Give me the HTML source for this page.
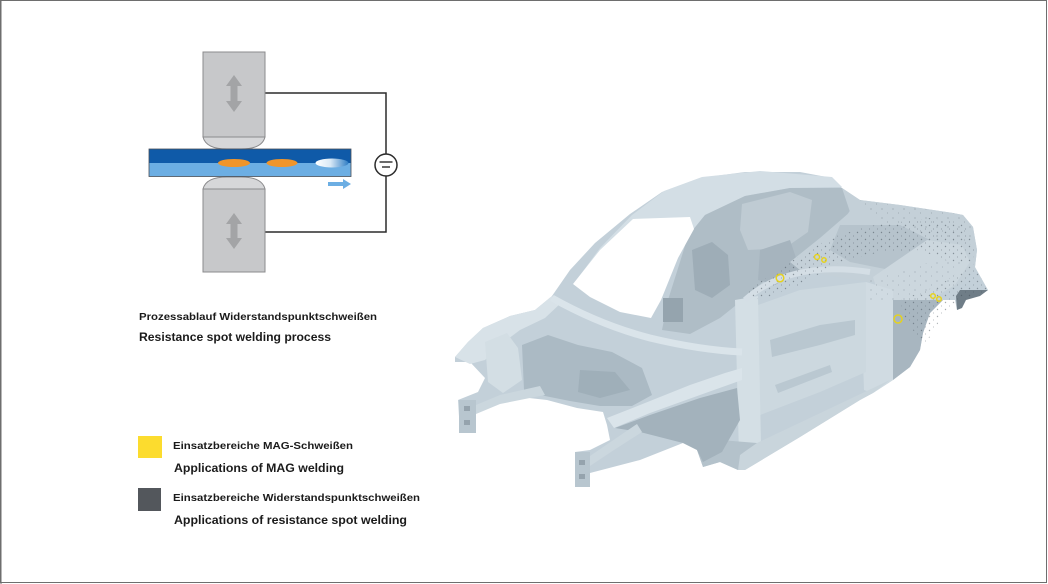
<!DOCTYPE html>
<html>
<head>
<meta charset="utf-8">
<style>
html,body{margin:0;padding:0;background:#fff;}
body{width:1048px;height:584px;overflow:hidden;position:relative;}
svg{position:absolute;left:0;top:0;}
</style>
</head>
<body>
<svg width="1048" height="584" viewBox="0 0 1048 584" xmlns="http://www.w3.org/2000/svg">
<defs>
  <linearGradient id="spot" x1="0" x2="1" y1="0" y2="0">
    <stop offset="0" stop-color="#ffffff"/>
    <stop offset="0.45" stop-color="#d9e9f6"/>
    <stop offset="1" stop-color="#2f7dc4"/>
  </linearGradient>
  <pattern id="dots" width="8" height="7" patternUnits="userSpaceOnUse">
    <circle cx="1.5" cy="1.5" r="0.7" fill="#3d4852"/>
    <circle cx="5.5" cy="5" r="0.5" fill="#3d4852"/>
  </pattern>
  <pattern id="dots2" width="11" height="9" patternUnits="userSpaceOnUse">
    <circle cx="2" cy="2" r="0.6" fill="#4a5560"/>
    <circle cx="7.5" cy="6" r="0.5" fill="#4a5560"/>
  </pattern>
</defs>

<!-- frame -->
<rect x="0.5" y="0.5" width="1046" height="582" fill="none" stroke="#6e6e6e" stroke-width="1"/>
<line x1="1" y1="0" x2="1" y2="584" stroke="#6e6e6e" stroke-width="1"/>

<!-- ============ Welding diagram ============ -->
<polyline points="265,93 386,93 386,154" fill="none" stroke="#2b2b2b" stroke-width="1.5"/>
<polyline points="386,176 386,232 265,232" fill="none" stroke="#2b2b2b" stroke-width="1.5"/>
<circle cx="386" cy="165" r="11" fill="#fff" stroke="#2b2b2b" stroke-width="1.5"/>
<line x1="379.5" y1="162" x2="392.5" y2="162" stroke="#2b2b2b" stroke-width="1.4"/>
<line x1="382" y1="167" x2="390" y2="167" stroke="#2b2b2b" stroke-width="1.4"/>

<rect x="203" y="52" width="62" height="85" fill="#c7c8ca" stroke="#8b8b8d" stroke-width="1"/>
<path d="M203,137 Q206,149 227,149 L241,149 Q262,149 265,137 Z" fill="#d6d7d9" stroke="#8b8b8d" stroke-width="1"/>
<path d="M234,75 L242,86 L237.5,86 L237.5,101 L242,101 L234,112 L226,101 L230.5,101 L230.5,86 L226,86 Z" fill="#a3a4a6"/>

<path d="M203,189 Q206,177 227,177 L241,177 Q262,177 265,189 Z" fill="#d6d7d9" stroke="#8b8b8d" stroke-width="1"/>
<rect x="203" y="189" width="62" height="83" fill="#c7c8ca" stroke="#8b8b8d" stroke-width="1"/>
<path d="M234,213 L242,224 L237.5,224 L237.5,238 L242,238 L234,249 L226,238 L230.5,238 L230.5,224 L226,224 Z" fill="#a3a4a6"/>

<rect x="149" y="149" width="202" height="14" fill="#0f5aa8"/>
<rect x="149" y="163" width="202" height="13.5" fill="#6caee3"/>
<rect x="149" y="149" width="202" height="27.5" fill="none" stroke="#4a4f57" stroke-width="0.8"/>
<ellipse cx="234" cy="163" rx="16" ry="4" fill="#f0952a"/>
<ellipse cx="282" cy="163" rx="15.5" ry="4" fill="#f0952a"/>
<ellipse cx="332" cy="163" rx="16.5" ry="4.5" fill="url(#spot)"/>
<path d="M328,182 L343,182 L343,179 L351,184 L343,189 L343,186 L328,186 Z" fill="#6caee3"/>

<!-- ============ Text ============ -->
<g font-family="'Liberation Sans', Arial, sans-serif" font-weight="bold" fill="#1b1b1b">
  <text x="139" y="320" font-size="10.5" textLength="238" lengthAdjust="spacingAndGlyphs">Prozessablauf Widerstandspunktschweißen</text>
  <text x="139" y="341" font-size="12.2" textLength="192" lengthAdjust="spacingAndGlyphs">Resistance spot welding process</text>
  <text x="173" y="449" font-size="10.5" textLength="180" lengthAdjust="spacingAndGlyphs">Einsatzbereiche MAG-Schweißen</text>
  <text x="174" y="472" font-size="12.2" textLength="170" lengthAdjust="spacingAndGlyphs">Applications of MAG welding</text>
  <text x="173" y="501" font-size="10.5" textLength="247" lengthAdjust="spacingAndGlyphs">Einsatzbereiche Widerstandspunktschweißen</text>
  <text x="174" y="524" font-size="12.2" textLength="233" lengthAdjust="spacingAndGlyphs">Applications of resistance spot welding</text>
</g>
<rect x="138" y="436" width="24" height="22" fill="#fcdc2e"/>
<rect x="138" y="488" width="23" height="23" fill="#53575c"/>

<!-- ============ Car body ============ -->
<g>
  <polygon fill="#c3d0d9" points="
    455,357 468,342 483,328 510,316 535,310 552,296 570,270 595,243 630,214 662,192 700,178
    745,172 800,172 832,178 842,188 860,200 900,205 953,213 963,215 973,227 977,250 975,267
    988,290 977,293 963,291 962,306 957,310 955,300 943,300 930,313 923,333 920,350 910,367
    893,380 873,393 860,400 800,437 745,470 738,470 720,462 703,467 697,450 683,443
    640,460 590,473 590,487 575,487 575,452 590,450 610,440 607,425 603,412 577,408
    547,400 520,397 500,402 476,408 476,433 460,433 458,400 478,392 485,378 470,362 455,362"/>

  <!-- roof -->
  <polygon fill="#d3dee5" points="575,282 600,248 632,215 664,191 702,177 760,171 832,177 842,187 790,188 745,196 705,215 688,236 633,221 600,252"/>

  <!-- interior through side window -->
  <polygon fill="#afbdc6" points="688,236 705,215 745,196 790,188 842,188 856,202 840,225 805,252 772,274 745,298 720,318 690,334 662,330 668,300 680,262"/>
  <polygon fill="#9eadb7" points="692,250 712,242 728,255 730,285 712,298 695,290"/>
  <polygon fill="#bfcbd3" points="742,204 790,192 812,200 808,232 785,248 748,250 740,230"/>
  <polygon fill="#a6b4be" points="760,250 790,240 800,270 775,285 758,280"/>
  <rect x="663" y="298" width="20" height="24" fill="#95a4ae"/>

  <!-- rear deck -->
  <polygon fill="#c4d0d8" points="842,188 860,200 900,205 953,213 963,215 973,227 977,250 975,267 960,285 935,295 905,290 872,282 832,276 800,270 790,262 820,238 850,212"/>
  <polygon fill="#b6c3cc" points="840,225 900,225 930,240 925,262 890,270 850,262 830,250"/>
  <ellipse cx="870" cy="290" rx="14" ry="4" fill="#dde6eb"/>

  <!-- rear quarter -->
  <polygon fill="#ccd7de" points="873,277 927,240 962,245 970,262 955,285 930,300 893,300 880,300"/>
  <polygon fill="#a8b6c0" points="893,300 930,300 943,300 930,313 923,333 920,350 910,367 893,380 880,370 882,320"/>
  <polygon fill="#d0dbe2" points="866,282 893,290 893,380 873,393 864,390 862,330"/>
  <polygon fill="#6f7d87" points="960,290 988,290 980,296 966,300 962,308 957,310 956,296"/>

  <!-- door opening floor -->
  <polygon fill="#ccd8df" points="758,305 800,290 866,282 866,372 820,392 760,415"/>
  <polygon fill="#b9c7d0" points="770,340 820,325 855,320 855,335 820,345 772,357"/>
  <polygon fill="#bac8d1" points="775,385 830,365 832,372 778,393"/>
  <!-- B-pillar -->
  <polygon fill="#d4dfe5" points="735,300 758,296 761,446 739,455"/>
  <path d="M745,300 Q790,260 870,272" fill="none" stroke="#d4dee5" stroke-width="6"/>

  <!-- sill -->
  <polygon fill="#c9d5dc" points="757,443 890,380 873,393 860,400 800,437 745,470 738,470 740,455"/>
  <polygon fill="#b4c2cb" points="697,450 720,440 757,443 740,455 738,470 720,462 703,467"/>

  <!-- windshield -->
  <polygon fill="#ffffff" points="633,219 690,217 694,229 678,258 661,300 651,318 620,312 590,297 573,284 600,250"/>

  <!-- front fender left -->
  <polygon fill="#d8e2e8" points="455,357 468,342 483,328 510,316 535,310 552,296 562,302 545,318 520,330 500,345 485,360 470,364"/>
  <polygon fill="#d3dee4" points="485,342 507,333 518,348 522,380 503,393 488,382"/>
  <polygon fill="#abbac4" points="522,345 548,335 578,345 612,352 642,368 652,395 632,406 600,406 570,401 545,396 524,390"/>
  <polygon fill="#9fafb9" points="580,370 615,372 630,390 600,398 578,392"/>
  <path d="M552,298 Q600,325 650,338 Q700,350 742,352" fill="none" stroke="#dae4ea" stroke-width="7"/>

  <!-- front right wheel well -->
  <polygon fill="#a3b2bc" points="615,428 650,415 700,398 737,388 740,420 722,452 703,462 697,450 683,443 640,432"/>
  <polygon fill="#dae4ea" points="607,418 640,405 690,385 725,373 742,368 742,380 700,395 650,413 614,428"/>

  <!-- rails & brackets -->
  <polygon fill="#cbd7de" points="476,405 500,395 540,386 545,395 500,404 476,414"/>
  <rect x="459" y="400" width="17" height="33" fill="#b8c6cf"/>
  <rect x="464" y="406" width="6" height="5" fill="#95a3ad"/>
  <rect x="464" y="420" width="6" height="5" fill="#95a3ad"/>
  <polygon fill="#cbd7de" points="590,456 612,441 637,424 642,432 614,450 590,466"/>
  <rect x="575" y="452" width="15" height="35" fill="#b8c6cf"/>
  <rect x="579" y="460" width="6" height="5" fill="#95a3ad"/>
  <rect x="579" y="474" width="6" height="5" fill="#95a3ad"/>

  <!-- spot weld speckles -->
  <polygon fill="url(#dots)" opacity="0.5" points="745,292 790,262 830,238 870,226 930,218 965,224 975,250 972,262 950,262 920,250 880,252 840,262 800,285 760,300"/>
  <polygon fill="url(#dots)" opacity="0.45" points="900,300 940,285 972,262 988,290 962,300 940,320 925,345 905,320"/>
  <polygon fill="url(#dots2)" opacity="0.4" points="860,200 953,213 973,227 972,245 930,235 880,222"/>
  <polygon fill="url(#dots2)" opacity="0.35" points="866,282 930,262 960,262 955,285 930,300 893,300 870,300"/>

  <!-- MAG weld marks -->
  <g fill="none" stroke="#e6d21e" stroke-width="1.5">
    <circle cx="780" cy="278" r="3.8"/>
    <circle cx="898" cy="319" r="4"/>
    <circle cx="817" cy="257" r="2.5"/>
    <circle cx="824" cy="260" r="2.2"/>
    <circle cx="933" cy="296" r="2.3"/>
    <circle cx="939" cy="299" r="2.3"/>
  </g>
</g>
</svg>
</body>
</html>
